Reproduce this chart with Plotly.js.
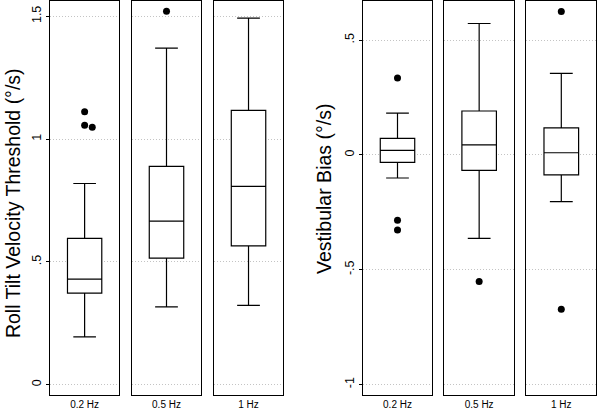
<!DOCTYPE html>
<html>
<head>
<meta charset="utf-8">
<script src="https://cdn.plot.ly/plotly-3.0.1.min.js"></script>
<style>
  html, body { margin: 0; padding: 0; background: #fff; }
  #plot { width: 600px; height: 410px; }
</style>
</head>
<body>
<div id="plot"></div>
<script>
// frequencies, one sub-panel each
var freqs = ["0.2 Hz", "0.5 Hz", "1 Hz"];

// roll tilt velocity threshold (deg/s), box stats
var thrLow = [0.195, 0.317, 0.323];
var thrQ1 = [0.373, 0.515, 0.565];
var thrMed = [0.430, 0.666, 0.807];
var thrQ3 = [0.596, 0.889, 1.117];
var thrHigh = [0.819, 1.370, 1.492];
var thrOut = [[1.111, 1.056, 1.048], [1.520], []];
var thrOutJitter = [[0, 0, 0.22], [0], []];

// vestibular bias (deg/s)
var biasLow = [-0.101, -0.364, -0.204];
var biasQ1 = [-0.033, -0.068, -0.087];
var biasMed = [0.019, 0.043, 0.009];
var biasQ3 = [0.072, 0.191, 0.117];
var biasHigh = [0.182, 0.572, 0.355];
var biasOut = [[0.335, -0.285, -0.327], [-0.552], [0.624, -0.672]];
var biasOutJitter = [[0, 0, 0], [0], [0, 0]];

var thrTicks = [0, 0.5, 1, 1.5];
var thrTickText = ["0", ".5", "1", "1.5"];
var biasTicks = [-1, -0.5, 0, 0.5];
var biasTickText = ["-1", "-.5", "0", ".5"];

var domains = [
  [0.0833, 0.1988], [0.2195, 0.3355], [0.3562, 0.4722],
  [0.6045, 0.7205], [0.7405, 0.8567], [0.8772, 0.9938]
];

var traces = [];
var layout = {
  width: 600, height: 410,
  margin: {l: 0, r: 0, t: 1, b: 15},
  paper_bgcolor: "#fff", plot_bgcolor: "#fff",
  showlegend: false,
  font: {family: "Liberation Sans, Arial, sans-serif", color: "#000"},
  // y titles placed by hand so they sit where the original has them
  annotations: [
    {text: "Roll Tilt Velocity Threshold (°/s)", xref: "paper", yref: "paper",
     x: 0.021, y: 0.486, xanchor: "center", yanchor: "middle",
     textangle: -90, showarrow: false, font: {size: 19.5}},
    {text: "Vestibular Bias (°/s)", xref: "paper", yref: "paper",
     x: 0.541, y: 0.522, xanchor: "center", yanchor: "middle",
     textangle: -90, showarrow: false, font: {size: 19.5}}
  ]
};

function addPanel(k, stats, outs, jit) {
  var n = k + 1;
  var xa = n === 1 ? "x" : "x" + n;
  var ya = n === 1 ? "y" : "y" + n;
  var i = k % 3;
  traces.push({
    type: "box", xaxis: xa, yaxis: ya,
    x: [0],
    q1: [stats.q1[i]], median: [stats.med[i]], q3: [stats.q3[i]],
    lowerfence: [stats.low[i]], upperfence: [stats.high[i]],
    width: 0.99, whiskerwidth: 0.66,
    fillcolor: "#fff",
    line: {color: "#000", width: 1.2},
    boxpoints: false, hoverinfo: "skip"
  });
  if (outs[i].length) {
    traces.push({
      type: "scatter", mode: "markers", xaxis: xa, yaxis: ya,
      x: jit[i], y: outs[i],
      marker: {color: "#000", size: 7},
      hoverinfo: "skip"
    });
  }
  layout["xaxis" + (n === 1 ? "" : n)] = {
    domain: domains[k], anchor: ya, range: [-1, 1],
    tickvals: [0], ticktext: [freqs[i]], ticks: "",
    tickfont: {size: 10}, showgrid: false, zeroline: false,
    showline: true, mirror: true, linecolor: "#000", linewidth: 1,
    fixedrange: true
  };
}

var thrStats = {low: thrLow, q1: thrQ1, med: thrMed, q3: thrQ3, high: thrHigh};
var biasStats = {low: biasLow, q1: biasQ1, med: biasMed, q3: biasQ3, high: biasHigh};

for (var k = 0; k < 6; k++) {
  var left = k < 3;
  addPanel(k, left ? thrStats : biasStats, left ? thrOut : biasOut, left ? thrOutJitter : biasOutJitter);
  var n = k + 1;
  var first = (k === 0 || k === 3);
  layout["yaxis" + (n === 1 ? "" : n)] = {
    domain: [0, 1], anchor: n === 1 ? "x" : "x" + n,
    range: left ? [-0.042, 1.562] : [-1.046, 0.670],
    tickvals: left ? thrTicks : biasTicks,
    ticktext: left ? thrTickText : biasTickText,
    tickangle: -90,
    tickfont: {size: 12.5},
    ticks: first ? "outside" : "", ticklen: 3, tickcolor: "#000",
    showticklabels: first,
    showgrid: true, gridcolor: "#c4c4c4", griddash: "1px,2px", gridwidth: 1,
    zeroline: false,
    showline: true, mirror: true, linecolor: "#000", linewidth: 1,
    fixedrange: true
  };
}

Plotly.newPlot("plot", traces, layout, {staticPlot: true});
</script>
</body>
</html>
